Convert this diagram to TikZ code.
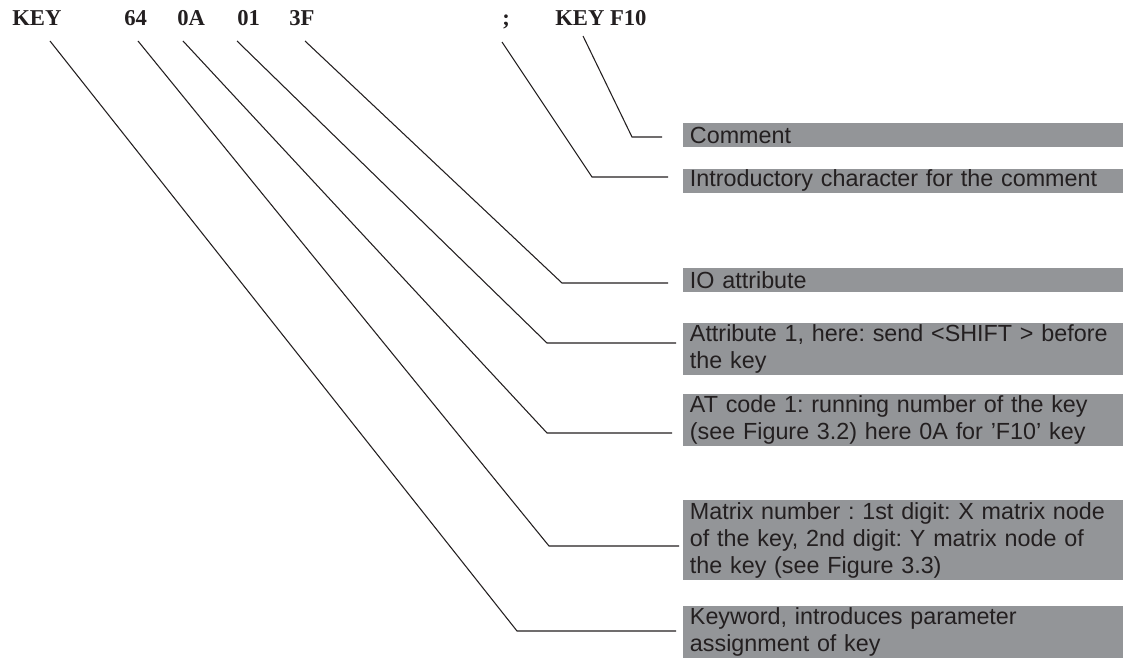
\documentclass[tikz,border=0pt]{standalone}
\usepackage{fontspec}
\setmainfont{Liberation Serif}
\newfontfamily\lsans{Liberation Sans}
\definecolor{boxgrey}{HTML}{939598}
\definecolor{ink}{HTML}{231F20}
\frenchspacing
\begin{document}
\begin{tikzpicture}[x=0.75pt,y=-0.75pt,
  hdr/.style={anchor=base west, inner sep=0pt, font=\bfseries\fontsize{17}{20}\selectfont, text=ink},
  lbl/.style={anchor=north west, fill=boxgrey, text=ink, inner xsep=5pt, inner ysep=0pt,
    text width=320pt, align=left, font=\lsans\fontsize{17.5}{20.25}\selectfont\frenchspacing},
  conn/.style={draw=ink, line width=0.8pt}]
\useasboundingbox (0,0) rectangle (1123,659);

% header
\node[hdr] (hKEY) at (12,26) {KEY};
\node[hdr] (h64) at (124,26) {64};
\node[hdr] (h0A) at (177,26) {0A};
\node[hdr] (h01) at (237,26) {01};
\node[hdr] (h3F) at (289,26) {3F};
\node[hdr] (hsemi) at (502,26) {;};
\node[hdr] (hF10) at (555,26) {KEY F10};

% labels
\node[lbl, minimum height=18pt] (comment) at (683,123) {Comment};
\node[lbl, minimum height=17.5pt] (intro) at (683,169) {Introductory character for the comment};
\node[lbl, minimum height=18pt] (io) at (683,268) {IO attribute};
\node[lbl, minimum height=39pt] (attr) at (683,323) {Attribute 1, here: send <SHIFT > before\\the key};
\node[lbl, minimum height=39pt] (at) at (683,394) {AT code 1: running number of the key\\(see Figure 3.2) here 0A for ’F10’ key};
\node[lbl, minimum height=60pt] (matrix) at (683,500) {Matrix number : 1st digit: X matrix node\\of the key, 2nd digit: Y matrix node of\\the key (see Figure 3.3)};
\node[lbl, minimum height=39pt] (kw) at (683,606) {Keyword, introduces parameter\\assignment of key};

% connector points
\coordinate (sKEY) at (50,41);  \coordinate (cKEY) at (517,631); \coordinate (eKEY) at (676,631);
\coordinate (s64) at (138,41);  \coordinate (c64) at (549,546);  \coordinate (e64) at (679,546);
\coordinate (s0A) at (183,41);  \coordinate (c0A) at (547,433);  \coordinate (e0A) at (672,433);
\coordinate (s01) at (237,41);  \coordinate (c01) at (547,343);  \coordinate (e01) at (676,343);
\coordinate (s3F) at (305,41);  \coordinate (c3F) at (562,283);  \coordinate (e3F) at (668,283);
\coordinate (ssemi) at (502,42); \coordinate (csemi) at (592,177); \coordinate (esemi) at (668,177);
\coordinate (sF10) at (583,36); \coordinate (cF10) at (632,137); \coordinate (eF10) at (662,137);

\draw[conn] (sKEY) -- (cKEY) -- (eKEY);
\draw[conn] (s64) -- (c64) -- (e64);
\draw[conn] (s0A) -- (c0A) -- (e0A);
\draw[conn] (s01) -- (c01) -- (e01);
\draw[conn] (s3F) -- (c3F) -- (e3F);
\draw[conn] (ssemi) -- (csemi) -- (esemi);
\draw[conn] (sF10) -- (cF10) -- (eF10);
\end{tikzpicture}
\end{document}
